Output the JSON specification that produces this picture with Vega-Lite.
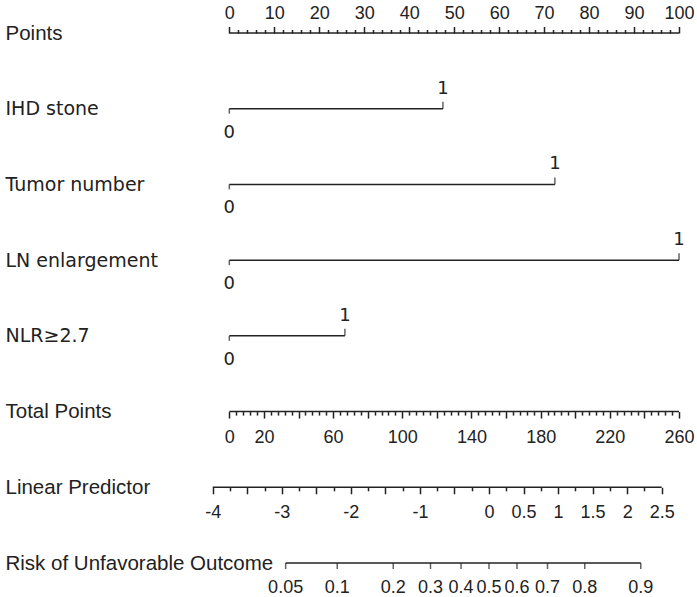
{
  "$schema": "https://vega.github.io/schema/vega-lite/v6.json",
  "width": 697,
  "height": 597,
  "autosize": "none",
  "padding": 0,
  "background": "white",
  "config": {
    "view": {"stroke": null},
    "axis": {"grid": false, "domain": false, "title": null, "labelFont": "Liberation Sans", "labelFontSize": 18, "labelColor": "#222", "tickColor": "#222", "tickWidth": 1.5, "labelFlush": false, "labelOverlap": false}
  },
  "encoding": {
    "y": {
      "field": "row", "type": "nominal",
      "scale": {"type": "point", "domain": ["Points", "IHD stone", "Tumor number", "LN enlargement", "NLR≥2.7", "Total Points", "Linear Predictor", "Risk of Unfavorable Outcome"], "range": [33, 563], "padding": 0},
      "axis": {"title": null, "domain": false, "ticks": false, "labelAlign": "left", "labelBaseline": "middle", "labelPadding": -5, "labelLimit": 0,
        "labelFontSize": {"condition": {"test": "indexof(['IHD stone','Tumor number','LN enlargement','NLR≥2.7'], datum.value) >= 0", "value": 19}, "value": 20.5},
        "labelFont": {"condition": {"test": "indexof(['IHD stone','Tumor number','LN enlargement','NLR≥2.7'], datum.value) >= 0", "value": "DejaVu Sans"}, "value": "Liberation Sans"}}
    }
  },
  "resolve": {"scale": {"x": "independent"}},
  "layer": [
    {
      "data": {"values": [{"row": "Points", "lo": 0, "hi": 100}]},
      "mark": {"type": "rule", "color": "#222", "strokeWidth": 1.5},
      "encoding": {
        "x": {"field": "lo", "type": "quantitative", "scale": {"domain": [-51.0, 104.0], "nice": false, "zero": false},
          "axis": {"orient": "top", "offset": -33, "values": [0, 10, 20, 30, 40, 50, 60, 70, 80, 90, 100], "tickSize": 6.5, "labelPadding": 4}},
        "x2": {"field": "hi"}
      }
    },
    {
      "data": {"values": [{"row": "Points", "lo": 0, "hi": 100}]},
      "mark": {"type": "rule", "opacity": 0},
      "encoding": {
        "x": {"field": "lo", "type": "quantitative", "scale": {"domain": [-51.0, 104.0], "nice": false, "zero": false},
          "axis": {"orient": "top", "offset": -33, "labels": false, "tickSize": 3.5, "values": [2, 4, 6, 8, 12, 14, 16, 18, 22, 24, 26, 28, 32, 34, 36, 38, 42, 44, 46, 48, 52, 54, 56, 58, 62, 64, 66, 68, 72, 74, 76, 78, 82, 84, 86, 88, 92, 94, 96, 98]}},
        "x2": {"field": "hi"}
      }
    },
    {
      "data": {"values": [{"row": "Total Points", "lo": 0, "hi": 260}]},
      "mark": {"type": "rule", "color": "#222", "strokeWidth": 1.5},
      "encoding": {
        "x": {"field": "lo", "type": "quantitative", "scale": {"domain": [-132.6, 270.4], "nice": false, "zero": false},
          "axis": {"orient": "bottom", "offset": -185.43, "values": [0, 20, 40, 60, 80, 100, 120, 140, 160, 180, 200, 220, 240, 260], "tickSize": 6.5, "labelPadding": 10,
            "labelExpr": "datum.value % 40 == 20 || datum.value == 0 ? datum.label : ''"}},
        "x2": {"field": "hi"}
      }
    },
    {
      "data": {"values": [{"row": "Total Points", "lo": 0, "hi": 260}]},
      "mark": {"type": "rule", "opacity": 0},
      "encoding": {
        "x": {"field": "lo", "type": "quantitative", "scale": {"domain": [-132.6, 270.4], "nice": false, "zero": false},
          "axis": {"orient": "bottom", "offset": -185.43, "labels": false, "tickSize": 3.5, "values": [4, 8, 12, 16, 24, 28, 32, 36, 44, 48, 52, 56, 64, 68, 72, 76, 84, 88, 92, 96, 104, 108, 112, 116, 124, 128, 132, 136, 144, 148, 152, 156, 164, 168, 172, 176, 184, 188, 192, 196, 204, 208, 212, 216, 224, 228, 232, 236, 244, 248, 252, 256]}},
        "x2": {"field": "hi"}
      }
    },
    {
      "data": {"values": [{"row": "Linear Predictor", "lo": -4, "hi": 2.5}]},
      "mark": {"type": "rule", "color": "#222", "strokeWidth": 1.5},
      "encoding": {
        "x": {"field": "lo", "type": "quantitative", "scale": {"domain": [-7.079, 3.011], "nice": false, "zero": false},
          "axis": {"orient": "bottom", "offset": -109.71, "values": [-4, -3.5, -3, -2.5, -2, -1.5, -1, -0.5, 0, 0.5, 1, 1.5, 2, 2.5], "tickSize": 6.5, "labelPadding": 10,
            "labelExpr": "datum.value >= 0 || datum.value % 1 == 0 ? toString(datum.value) : ''"}},
        "x2": {"field": "hi"}
      }
    },
    {
      "data": {"values": [{"row": "Linear Predictor", "lo": -4, "hi": 2.5}]},
      "mark": {"type": "rule", "opacity": 0},
      "encoding": {
        "x": {"field": "lo", "type": "quantitative", "scale": {"domain": [-7.079, 3.011], "nice": false, "zero": false},
          "axis": {"orient": "bottom", "offset": -109.71, "labels": false, "tickSize": 3.5, "values": [-3.75, -3.25, -2.75, -2.25, -1.75, -1.25, -0.75, -0.25, 0.25, 0.75, 1.25, 1.75, 2.25]}},
        "x2": {"field": "hi"}
      }
    },
    {
      "data": {"values": [
        {"row": "IHD stone", "lo": 0, "hi": 47.5, "lo_label": "0", "hi_label": "1"},
        {"row": "Tumor number", "lo": 0, "hi": 72.4, "lo_label": "0", "hi_label": "1"},
        {"row": "LN enlargement", "lo": 0, "hi": 100, "lo_label": "0", "hi_label": "1"},
        {"row": "NLR≥2.7", "lo": 0, "hi": 25.7, "lo_label": "0", "hi_label": "1"}
      ]},
      "layer": [
        {
          "mark": {"type": "rule", "color": "#222", "strokeWidth": 1.5},
          "encoding": {
            "x": {"field": "lo", "type": "quantitative", "scale": {"domain": [-51.0, 104.0], "nice": false, "zero": false}, "axis": null},
            "x2": {"field": "hi"}
          }
        },
        {
          "mark": {"type": "tick", "color": "#222", "size": 5, "thickness": 1.5, "yOffset": 2.5},
          "encoding": {"x": {"field": "lo", "type": "quantitative", "scale": {"domain": [-51.0, 104.0], "nice": false, "zero": false}, "axis": null}}
        },
        {
          "mark": {"type": "tick", "color": "#222", "size": 7, "thickness": 1.5, "yOffset": -3.5},
          "encoding": {"x": {"field": "hi", "type": "quantitative", "scale": {"domain": [-51.0, 104.0], "nice": false, "zero": false}, "axis": null}}
        },
        {
          "mark": {"type": "text", "font": "DejaVu Sans", "fontSize": 18, "color": "#222", "baseline": "middle", "align": "center", "dy": 24},
          "encoding": {"x": {"field": "lo", "type": "quantitative", "scale": {"domain": [-51.0, 104.0], "nice": false, "zero": false}, "axis": null}, "text": {"field": "lo_label"}}
        },
        {
          "mark": {"type": "text", "font": "DejaVu Sans", "fontSize": 18, "color": "#222", "baseline": "middle", "align": "center", "dy": -20},
          "encoding": {"x": {"field": "hi", "type": "quantitative", "scale": {"domain": [-51.0, 104.0], "nice": false, "zero": false}, "axis": null}, "text": {"field": "hi_label"}}
        }
      ]
    },
    {
      "data": {"values": [
        {"row": "Risk of Unfavorable Outcome", "risk": "0.05", "lp": -2.944},
        {"row": "Risk of Unfavorable Outcome", "risk": "0.1", "lp": -2.197},
        {"row": "Risk of Unfavorable Outcome", "risk": "0.2", "lp": -1.386},
        {"row": "Risk of Unfavorable Outcome", "risk": "0.3", "lp": -0.847},
        {"row": "Risk of Unfavorable Outcome", "risk": "0.4", "lp": -0.405},
        {"row": "Risk of Unfavorable Outcome", "risk": "0.5", "lp": 0},
        {"row": "Risk of Unfavorable Outcome", "risk": "0.6", "lp": 0.405},
        {"row": "Risk of Unfavorable Outcome", "risk": "0.7", "lp": 0.847},
        {"row": "Risk of Unfavorable Outcome", "risk": "0.8", "lp": 1.386},
        {"row": "Risk of Unfavorable Outcome", "risk": "0.9", "lp": 2.197}
      ]},
      "layer": [
        {
          "mark": {"type": "rule", "color": "#222", "strokeWidth": 1.5},
          "encoding": {
            "x": {"aggregate": "min", "field": "lp", "type": "quantitative", "scale": {"domain": [-7.079, 3.011], "nice": false, "zero": false}, "axis": null},
            "x2": {"aggregate": "max", "field": "lp"}
          }
        },
        {
          "mark": {"type": "tick", "color": "#222", "size": 6, "thickness": 1.5, "yOffset": 3},
          "encoding": {"x": {"field": "lp", "type": "quantitative", "scale": {"domain": [-7.079, 3.011], "nice": false, "zero": false}, "axis": null}}
        },
        {
          "mark": {"type": "text", "font": "Liberation Sans", "fontSize": 18, "color": "#222", "baseline": "middle", "align": "center", "dy": 24.5},
          "encoding": {"x": {"field": "lp", "type": "quantitative", "scale": {"domain": [-7.079, 3.011], "nice": false, "zero": false}, "axis": null}, "text": {"field": "risk"}}
        }
      ]
    }
  ]
}
